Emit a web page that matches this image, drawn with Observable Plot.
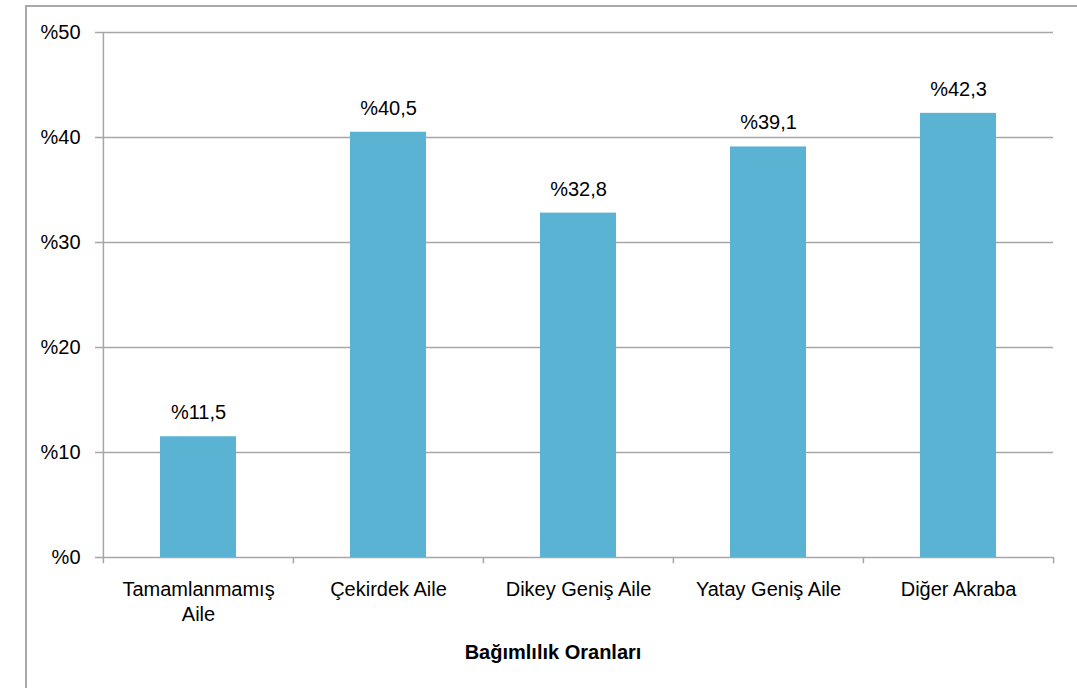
<!DOCTYPE html>
<html><head><meta charset="utf-8">
<script src="https://cdn.jsdelivr.net/npm/d3@7"></script>
<script src="https://cdn.jsdelivr.net/npm/@observablehq/plot@0.6"></script>
<style>
body{margin:0;background:#fff;overflow:hidden}
#wrap{position:relative;width:1077px;height:688px}
#border{position:absolute;left:25px;top:5px;width:1100px;height:720px;border:2px solid #a9a9a9;box-sizing:border-box}
#chart{position:absolute;left:0;top:0}
</style>
</head><body>
<div id="wrap"><div id="border"></div><div id="chart"></div></div>
<script>
const categories = ["Tamamlanmamış\nAile", "Çekirdek Aile", "Dikey Geniş Aile", "Yatay Geniş Aile", "Diğer Akraba"];
const values = [11.5, 40.5, 32.8, 39.1, 42.3];
const yTicks = [0, 10, 20, 30, 40, 50];
const xTitle = "Bağımlılık Oranları";

const data = categories.map((c, i) => ({category: c, value: values[i]}));
const fmt = v => "%" + String(v).replace(".", ",");
const W = 1077, H = 688, mL = 102, mR = 24, mT = 32, mB = 131;
const halfBand = (W - mL - mR) / categories.length / 2;
const grid = "#a6a6a6";
const font = "'Liberation Sans', Arial, sans-serif";

const chart = Plot.plot({
  width: W, height: H,
  marginLeft: mL, marginRight: mR, marginTop: mT, marginBottom: mB,
  style: {fontFamily: font, fontSize: "20px", color: "#000", background: "transparent"},
  x: {domain: categories, padding: 0},
  y: {domain: [0, 50]},
  marks: [
    Plot.ruleY(yTicks, {stroke: grid, strokeWidth: 1.5, insetLeft: -7}),
    Plot.ruleX([categories[0]], {x: d => d, y1: -0.6, y2: 50, dx: -halfBand, stroke: grid, strokeWidth: 1.5}),
    Plot.ruleX(categories.slice(1), {x: d => d, y1: -0.6, y2: 0, dx: -halfBand, stroke: grid, strokeWidth: 1.5}),
    Plot.ruleX([categories[categories.length - 1]], {x: d => d, y1: -0.6, y2: 0, dx: halfBand, stroke: grid, strokeWidth: 1.5}),
    Plot.barY(data, {x: "category", y: "value", fill: "#5bb3d3", insetLeft: 57, insetRight: 57}),
    Plot.text(data, {x: "category", y: "value", text: d => fmt(d.value), dy: -24, lineAnchor: "middle", fontSize: 20, fill: "#000"}),
    Plot.axisY({ticks: yTicks, tickFormat: d => "%" + d, tickSize: 0, tickPadding: 22, fontSize: 20, label: null}),
    Plot.axisX({tickSize: 0, tickPadding: 21, fontSize: 20, lineHeight: 1.25, label: null}),
    Plot.text([xTitle], {frameAnchor: "bottom", dy: 95, dx: -25, lineAnchor: "middle", fontWeight: "bold", fontSize: 20, fill: "#000"})
  ]
});
document.getElementById("chart").appendChild(chart);
</script>
</body></html>
